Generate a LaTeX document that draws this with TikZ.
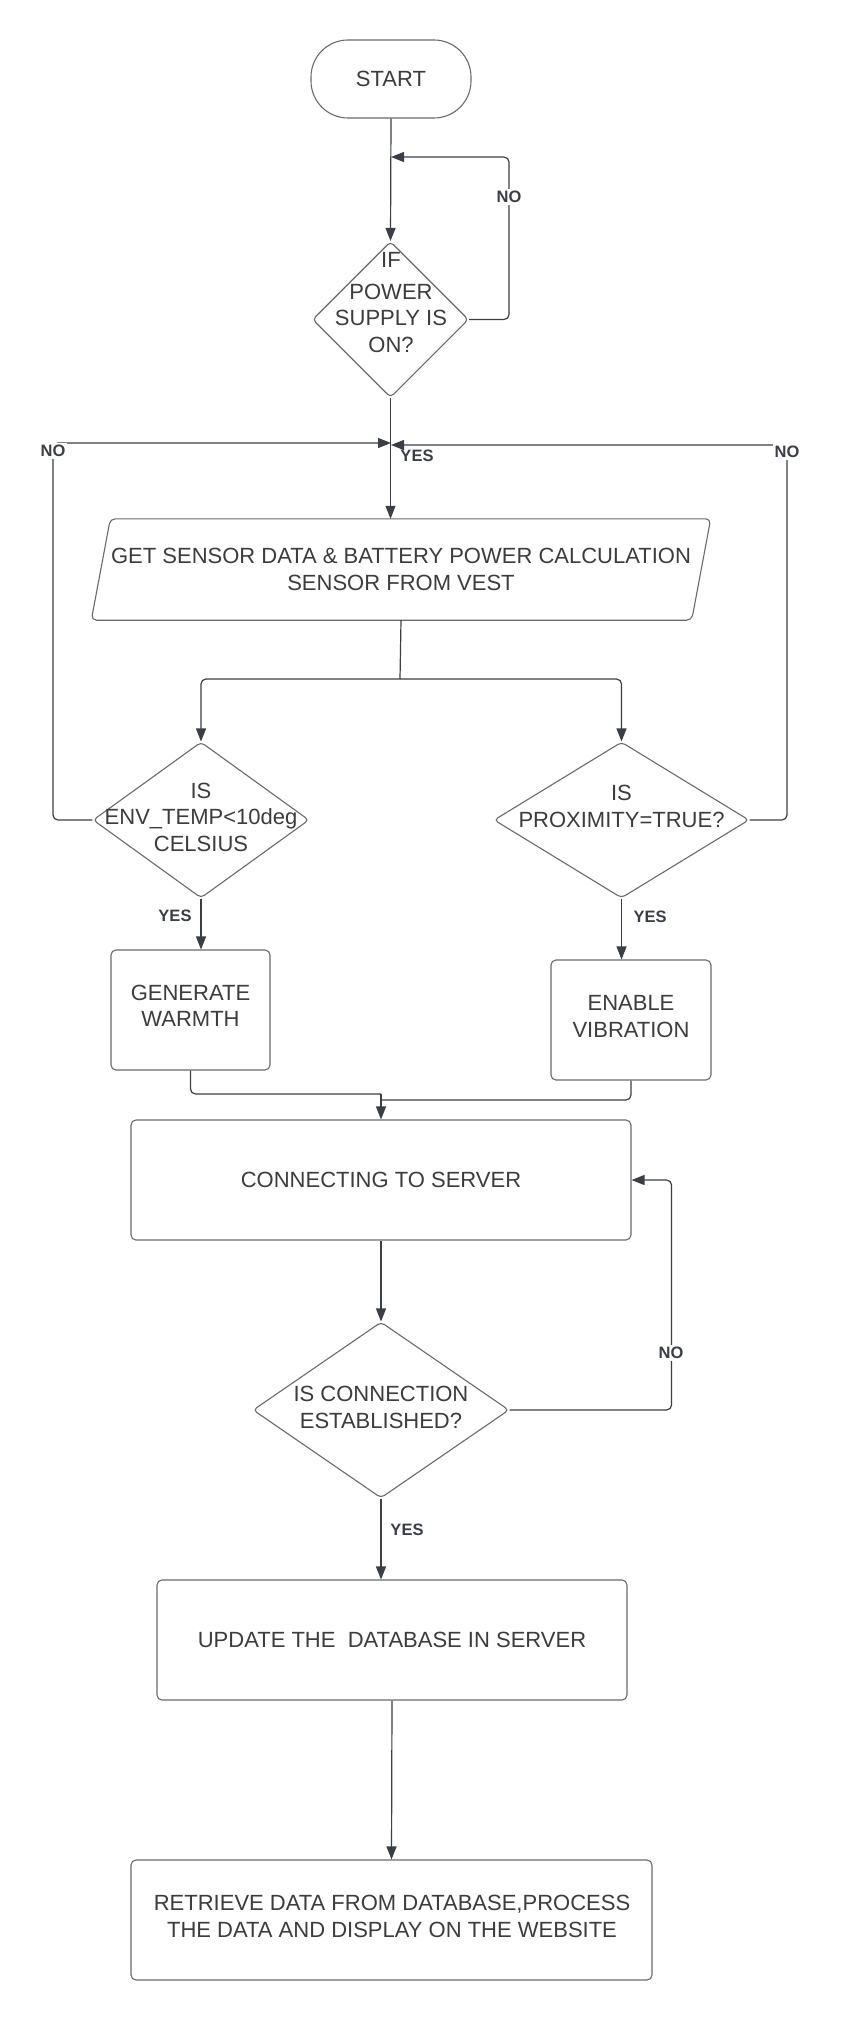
\documentclass[tikz,border=0pt]{standalone}
\usepackage{fontspec}
\setmainfont{Liberation Sans}
\usetikzlibrary{shapes.geometric,arrows.meta,calc}
\definecolor{ink}{HTML}{3A3F47}
\definecolor{edge}{HTML}{6A6A6A}
\definecolor{txt}{HTML}{3C3C3C}
\begin{document}
\begin{tikzpicture}[x=1pt,y=-1pt,
  every node/.style={text=txt, font=\fontsize{22}{26.5}\selectfont, align=center, inner sep=0pt},
  procbox/.style={draw=edge, line width=1.1pt, rounded corners=5pt},
  decision/.style={draw=edge, line width=1.1pt, diamond, rounded corners=4pt},
  flow/.style={draw=ink, line width=1.2pt, rounded corners=5pt},
  arr/.style={flow, -{Triangle[length=13pt,width=10pt]}},
  lbl/.style={font=\bfseries\fontsize{16.5}{19}\selectfont, text=ink},
  lblon/.style={lbl, fill=white, inner sep=2pt}
]
\useasboundingbox[fill=white] (0,0) rectangle (841,2020);

% ---- shapes ----
\node[procbox, rounded corners=37pt, minimum width=160pt, minimum height=78pt] (start) at (391,79) {START};

\node[decision, minimum width=156pt, minimum height=156pt] (pwr) at (390.5,319.5) {};
\node (pwr-t) at (391,302.5) {IF\\[5pt]POWER\\SUPPLY IS\\ON?};

\node[minimum width=600pt, minimum height=101pt] (get) at (401,569.5)
  {GET SENSOR DATA \& BATTERY POWER CALCULATION\\SENSOR FROM VEST};
\draw[draw=edge, line width=1.1pt, rounded corners=5pt]
  ($(get.north west)+(9.5,0)$) -- ($(get.north east)+(9.5,0)$) --
  ($(get.south east)+(-9.5,0)$) -- ($(get.south west)+(-9.5,0)$) -- cycle;

\node[decision, minimum width=216pt, minimum height=156pt] (temp) at (201,820) {};
\node (temp-t) at (201,817) {IS\\ENV\_TEMP<10deg\\CELSIUS};

\node[decision, minimum width=255pt, minimum height=156pt] (prox) at (621.5,820) {};
\node (prox-t) at (621.5,806.5) {IS\\PROXIMITY=TRUE?};

\node[procbox, minimum width=159pt, minimum height=120pt] (warm) at (190.5,1010) {};
\node (warm-t) at (190.5,1006) {GENERATE\\WARMTH};

\node[procbox, minimum width=160pt, minimum height=120pt] (vib) at (631,1020) {};
\node (vib-t) at (631,1016.5) {ENABLE\\VIBRATION};

\node[procbox, minimum width=500pt, minimum height=120pt] (conn) at (381,1180) {CONNECTING TO SERVER};

\node[decision, minimum width=256pt, minimum height=176pt] (est) at (381,1410) {};
\node (est-t) at (381,1407.5) {IS CONNECTION\\ESTABLISHED?};

\node[procbox, minimum width=470pt, minimum height=120pt] (upd) at (392,1640) {UPDATE THE\ \ DATABASE IN SERVER};

\node[procbox, minimum width=521pt, minimum height=120pt] (ret) at (391.5,1920) {};
\node (ret-t) at (392,1916.5) {RETRIEVE DATA FROM DATABASE,PROCESS\\THE DATA AND DISPLAY ON THE WEBSITE};

% ---- junction points ----
\coordinate (pwr-back) at (391,157);
\coordinate (join-l) at (391,443);
\coordinate (join-r) at (391,445);
\coordinate (split) at (400,679);
\coordinate (merge-l) at (381,1094);
\coordinate (merge-r) at (381,1100);

% ---- connectors ----
\draw[arr] (start.south) -- (pwr.north);
\draw[arr] (pwr.east) -| ($(pwr-back)+(118,0)$) -- (pwr-back);
\draw[arr] (pwr.south) -- (pwr.south |- get.north);
\draw[arr] (temp.west) -| ($(join-l)+(-338,0)$) -- (join-l);
\draw[arr] (prox.east) -| ($(join-r)+(396,0)$) -- (join-r);
\draw[flow] (get.south) -- (split);
\draw[arr] (split) -| (temp.north);
\draw[arr] (split) -| (prox.north);
\draw[arr] (temp.south) -- (temp.south |- warm.north);
\draw[arr] (prox.south) -- (prox.south |- vib.north);
\draw[flow] (warm.south) |- (merge-l);
\draw[flow] (vib.south) |- (merge-r);
\draw[arr] (merge-l) -- (conn.north);
\draw[arr] (conn.south) -- (est.north);
\draw[arr] (est.east) -| ($(conn.east)+(40,0)$) -- (conn.east);
\draw[arr] (est.south) -- (est.south |- upd.north);
\draw[arr] (upd.south) -- (ret.north);

% ---- branch labels ----
\node[lblon] (no-pwr) at (509,197) {NO};
\node[lblon] (no-temp) at (53,451) {NO};
\node[lblon] (no-prox) at (787,452) {NO};
\node[lblon] (no-est) at (671,1353) {NO};
\node[lbl] (yes-pwr) at (417,456) {YES};
\node[lbl] (yes-temp) at (175,916) {YES};
\node[lbl] (yes-prox) at (650,917) {YES};
\node[lbl] (yes-est) at (407,1530) {YES};
\end{tikzpicture}
\end{document}
